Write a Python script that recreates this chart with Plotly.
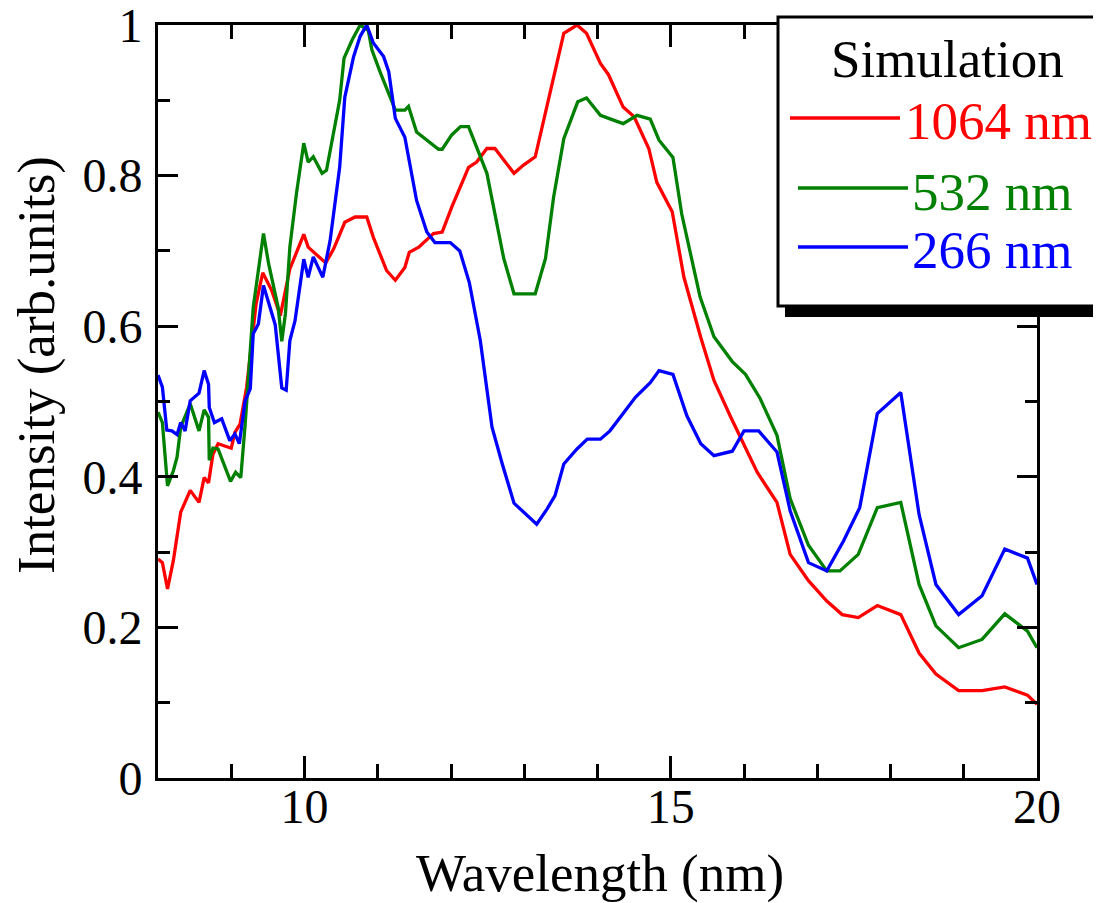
import plotly.graph_objects as go

# ---------------- data ----------------
red_x = [8.0, 8.06, 8.13, 8.21, 8.31, 8.44, 8.56, 8.63, 8.69, 8.75, 8.82, 9.0, 9.05, 9.12,
         9.21, 9.34, 9.43, 9.55, 9.67, 9.80, 9.99, 10.05, 10.29, 10.40, 10.55, 10.69, 10.85,
         10.94, 11.12, 11.24, 11.37, 11.43, 11.56, 11.76, 11.88, 12.01, 12.24, 12.35, 12.49,
         12.60, 12.86, 12.99, 13.15, 13.54, 13.72, 13.85, 14.04, 14.15, 14.35, 14.50, 14.70,
         14.81, 15.02, 15.18, 15.41, 15.59, 15.82, 16.00, 16.18, 16.45, 16.63, 16.88, 17.13,
         17.34, 17.56, 17.82, 18.14, 18.39, 18.62, 18.93, 19.25, 19.56, 19.87, 20.0]
red_y = [0.291, 0.286, 0.251, 0.289, 0.353, 0.382, 0.366, 0.399, 0.392, 0.430, 0.444, 0.438,
         0.459, 0.470, 0.519, 0.630, 0.671, 0.648, 0.614, 0.676, 0.722, 0.705, 0.684, 0.703,
         0.738, 0.745, 0.745, 0.718, 0.674, 0.661, 0.678, 0.698, 0.705, 0.723, 0.725, 0.758,
         0.811, 0.818, 0.836, 0.836, 0.803, 0.814, 0.825, 0.989, 1.0, 0.989, 0.949, 0.934,
         0.891, 0.878, 0.836, 0.791, 0.752, 0.665, 0.585, 0.528, 0.479, 0.443, 0.406, 0.366,
         0.297, 0.262, 0.235, 0.217, 0.213, 0.229, 0.217, 0.166, 0.138, 0.116, 0.116, 0.121,
         0.110, 0.098]

green_x = [8.0, 8.06, 8.13, 8.21, 8.26, 8.31, 8.44, 8.56, 8.63, 8.69, 8.70, 8.75, 8.82, 8.99,
           9.06, 9.13, 9.19, 9.30, 9.44, 9.51, 9.64, 9.69, 9.74, 9.80, 9.89, 9.99, 10.05,
           10.12, 10.24, 10.30, 10.48, 10.54, 10.65, 10.76, 10.87, 10.92, 11.03, 11.24, 11.37,
           11.42, 11.53, 11.83, 11.88, 12.01, 12.13, 12.24, 12.49, 12.72, 12.86, 13.15, 13.29,
           13.40, 13.54, 13.73, 13.85, 14.04, 14.18, 14.35, 14.54, 14.72, 14.84, 15.03, 15.15,
           15.40, 15.59, 15.84, 16.02, 16.22, 16.45, 16.63, 16.88, 17.13, 17.31, 17.56, 17.82,
           18.14, 18.39, 18.62, 18.93, 19.25, 19.56, 19.87, 20.0]
green_y = [0.486, 0.472, 0.388, 0.408, 0.426, 0.466, 0.497, 0.461, 0.489, 0.479, 0.422, 0.438,
           0.437, 0.394, 0.406, 0.399, 0.470, 0.625, 0.723, 0.683, 0.625, 0.580, 0.617, 0.705,
           0.776, 0.843, 0.818, 0.825, 0.803, 0.807, 0.900, 0.956, 0.980, 1.0, 0.993, 0.967,
           0.938, 0.887, 0.887, 0.892, 0.858, 0.835, 0.835, 0.854, 0.865, 0.865, 0.803, 0.690,
           0.643, 0.643, 0.690, 0.771, 0.849, 0.898, 0.903, 0.880, 0.875, 0.869, 0.880, 0.875,
           0.847, 0.824, 0.749, 0.639, 0.586, 0.553, 0.536, 0.504, 0.455, 0.371, 0.309, 0.275,
           0.275, 0.297, 0.359, 0.366, 0.257, 0.202, 0.173, 0.184, 0.218, 0.195, 0.173]

blue_x = [8.0, 8.06, 8.12, 8.19, 8.26, 8.31, 8.37, 8.44, 8.56, 8.63, 8.69, 8.70, 8.77, 8.87,
          8.98, 9.05, 9.11, 9.19, 9.26, 9.30, 9.37, 9.44, 9.60, 9.69, 9.75, 9.80, 9.87, 9.99,
          10.05, 10.12, 10.25, 10.35, 10.48, 10.55, 10.67, 10.76, 10.85, 10.94, 11.08, 11.15,
          11.24, 11.37, 11.53, 11.67, 11.78, 11.99, 12.12, 12.25, 12.40, 12.56, 12.70, 12.86,
          13.17, 13.31, 13.42, 13.54, 13.72, 13.86, 14.04, 14.17, 14.52, 14.72, 14.84, 15.03,
          15.22, 15.41, 15.59, 15.84, 16.00, 16.20, 16.45, 16.63, 16.88, 17.13, 17.36, 17.58,
          17.82, 18.14, 18.39, 18.62, 18.93, 19.25, 19.56, 19.87, 20.0]
blue_y = [0.535, 0.519, 0.462, 0.461, 0.456, 0.472, 0.461, 0.501, 0.511, 0.541, 0.523, 0.492,
          0.472, 0.477, 0.448, 0.457, 0.444, 0.501, 0.517, 0.590, 0.603, 0.654, 0.602, 0.518,
          0.515, 0.581, 0.607, 0.689, 0.665, 0.692, 0.665, 0.714, 0.811, 0.904, 0.958, 0.985,
          1.0, 0.976, 0.958, 0.938, 0.876, 0.851, 0.767, 0.725, 0.711, 0.711, 0.700, 0.658,
          0.581, 0.466, 0.417, 0.365, 0.337, 0.357, 0.375, 0.417, 0.437, 0.450, 0.450, 0.461,
          0.506, 0.525, 0.541, 0.536, 0.481, 0.444, 0.428, 0.434, 0.461, 0.461, 0.433, 0.355,
          0.286, 0.275, 0.315, 0.359, 0.484, 0.512, 0.350, 0.257, 0.217, 0.242, 0.304, 0.292,
          0.257]

series_names = ["1064 nm", "532 nm", "266 nm"]
series_colors = ["#ff0000", "#008000", "#0000ff"]
legend_title = "Simulation"
x_title = "Wavelength (nm)"
y_title = "Intensity (arb.units)"

assert len(red_x) == len(red_y)
assert len(green_x) == len(green_y)
assert len(blue_x) == len(blue_y)

FONT = "Liberation Serif, Times New Roman, serif"
OFF = 8                      # page body margin offset
W, H = 1101 - OFF, 903 - OFF
# plot area in screen pixels: x 158..1037, y 25..778
L, T = 158 - OFF, 25 - OFF
R = W - (1037 - OFF)
B = H - (778 - OFF)
PW, PH = W - L - R, H - T - B


def px(xs):
    """screen x pixel -> paper coordinate"""
    return (xs - OFF - L) / PW


def py(ys):
    """screen y pixel -> paper coordinate"""
    return (H - B - (ys - OFF)) / PH


fig = go.Figure()
for xs, ys, name, col in zip([red_x, green_x, blue_x], [red_y, green_y, blue_y],
                             series_names, series_colors):
    fig.add_trace(go.Scatter(x=xs, y=ys, mode="lines", name=name,
                             line=dict(color=col, width=3.3), showlegend=False))

axis_common = dict(showline=True, linecolor="black", linewidth=3, mirror="allticks",
                   ticks="inside", tickcolor="black", tickwidth=3, showgrid=False,
                   zeroline=False, automargin=False, ticklabeloverflow="allow",
                   tickfont=dict(family=FONT, size=48, color="black"))

fig.update_xaxes(range=[8, 20], tick0=0, dtick=5, ticklen=22, ticklabelstandoff=-16,
                 minor=dict(dtick=1, tick0=0, ticklen=14, ticks="inside", tickcolor="black",
                            tickwidth=3, showgrid=False),
                 **axis_common)
fig.update_yaxes(range=[0, 1.000001], tick0=0, dtick=0.2, ticklen=20, ticklabelstandoff=3,
                 minor=dict(dtick=0.1, tick0=0, ticklen=12, ticks="inside", tickcolor="black",
                            tickwidth=3, showgrid=False),
                 **axis_common)

# ---- axis titles ----
annotations = [
    dict(text=x_title, xref="paper", yref="paper", x=px(600), y=py(874),
         xanchor="center", yanchor="middle", showarrow=False,
         font=dict(family=FONT, size=53, color="black")),
    dict(text=y_title, xref="paper", yref="paper", x=px(36), y=py(365),
         xanchor="center", yanchor="middle", showarrow=False, textangle=-90,
         font=dict(family=FONT, size=53, color="black")),
]

# ---- legend box (drawn manually to match the long line samples) ----
shapes = []
box_l, box_t, box_r, box_b = 778, 17, 1098, 306
shapes.append(dict(type="rect", xref="paper", yref="paper",
                   x0=px(box_l + 7), x1=px(box_r + 9), y0=py(box_b + 11), y1=py(box_t + 9),
                   fillcolor="black", line=dict(width=0), layer="above"))
shapes.append(dict(type="rect", xref="paper", yref="paper",
                   x0=px(box_l), x1=px(box_r), y0=py(box_b), y1=py(box_t),
                   fillcolor="white", line=dict(color="black", width=3), layer="above"))
line_rows = [(790, 900, 118), (798, 908, 188), (798, 908, 247)]
text_rows = [(903, 121), (910, 192), (910, 250)]
annotations.append(dict(text=legend_title, xref="paper", yref="paper", x=px(947), y=py(59),
                        xanchor="center", yanchor="middle", showarrow=False,
                        font=dict(family=FONT, size=53, color="black")))
for (x0, x1, yy), (tx, ty), name, col in zip(line_rows, text_rows, series_names, series_colors):
    shapes.append(dict(type="line", xref="paper", yref="paper", x0=px(x0), x1=px(x1),
                       y0=py(yy), y1=py(yy), line=dict(color=col, width=3.3), layer="above"))
    annotations.append(dict(text=name, xref="paper", yref="paper", x=px(tx), y=py(ty),
                            xanchor="left", yanchor="middle", showarrow=False,
                            font=dict(family=FONT, size=53, color=col)))

fig.update_layout(width=W, height=H, margin=dict(l=L, r=R, t=T, b=B, pad=0),
                  plot_bgcolor="white", paper_bgcolor="white", showlegend=False,
                  shapes=shapes, annotations=annotations)

fig.write_html("out.html")
